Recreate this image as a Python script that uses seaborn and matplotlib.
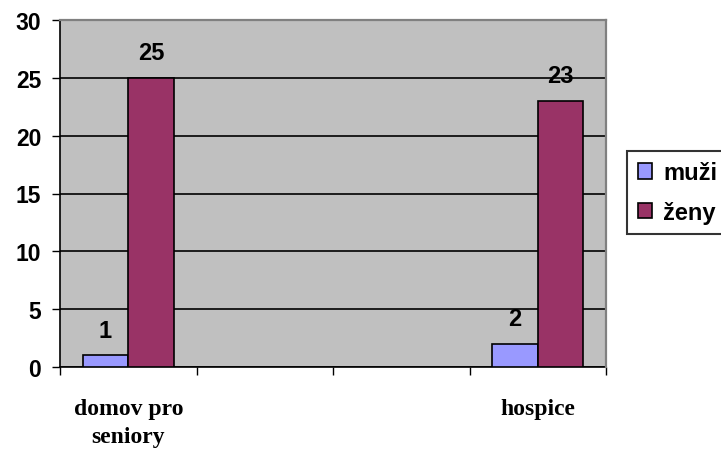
import matplotlib
matplotlib.use("Agg")
import matplotlib.pyplot as plt
import seaborn as sns
import pandas as pd
from matplotlib.ticker import FixedLocator, NullFormatter

# Category slots along the x axis (two unlabeled slots between the facilities)
slots = ["domov pro\nseniory", "slot2", "slot3", "hospice"]
slot_labels = ["domov pro\nseniory", "", "", "hospice"]
facilities = ["domov pro\nseniory", "hospice"]
muzi = [1, 2]
zeny = [25, 23]
series = ["muži", "ženy"]
colors = ["#9999FF", "#993366"]
yticks = [0, 5, 10, 15, 20, 25, 30]

df = pd.DataFrame({
    "zarizeni": facilities * 2,
    "pohlavi": [series[0]] * len(facilities) + [series[1]] * len(facilities),
    "pocet": muzi + zeny,
})

SANS = ["Liberation Sans", "DejaVu Sans"]

sns.set_style("white")
plt.rcParams["font.family"] = SANS
plt.rcParams["text.color"] = "black"
plt.rcParams["xtick.color"] = "black"
plt.rcParams["ytick.color"] = "black"

fig = plt.figure(figsize=(7.21, 4.52), dpi=100)
ax = fig.add_axes([60 / 721, 1 - 368 / 452, (606 - 60) / 721, (368 - 21) / 452])
ax.set_facecolor("#C0C0C0")

sns.barplot(data=df, x="zarizeni", y="pocet", hue="pohlavi", order=slots,
            hue_order=series, palette=colors, width=2 / 3, saturation=1,
            edgecolor="black", linewidth=1.2, ax=ax, zorder=3)

ax.set_xlim(-0.5, len(slots) - 0.5)
ax.set_ylim(0, 30)
ax.set_yticks(yticks)
ax.set_xlabel("")
ax.set_ylabel("")

# Black horizontal gridlines
ax.set_axisbelow(True)
ax.yaxis.grid(True, color="black", linewidth=1.2)
ax.xaxis.grid(False)

# Value labels above each bar
for cont in ax.containers:
    ax.bar_label(cont, fmt="%g", padding=10, fontsize=17, fontweight="bold",
                 family=SANS, color="black")

# Category boundaries as tick marks, names centered in each slot
ax.xaxis.set_major_locator(FixedLocator([i - 0.5 for i in range(len(slots) + 1)]))
ax.xaxis.set_major_formatter(NullFormatter())
ax.xaxis.set_minor_locator(FixedLocator(list(range(len(slots)))))
ax.set_xticklabels(slot_labels, minor=True)
ax.tick_params(axis="x", which="major", direction="out", length=5.5, width=1,
               color="black", bottom=True)
ax.tick_params(axis="x", which="minor", length=0, pad=22, bottom=True,
               labelcolor="black")
for lab in ax.get_xticklabels(minor=True):
    lab.set_fontfamily("Liberation Serif")
    lab.set_fontweight("bold")
    lab.set_fontsize(17)
    lab.set_linespacing(1.45)
    lab.set_va("top")

ax.tick_params(axis="y", direction="out", length=5.5, width=1, color="black",
               left=True, pad=8, labelcolor="black")
for lab in ax.get_yticklabels():
    lab.set_fontsize(16.5)
    lab.set_fontweight("bold")

for side in ["left", "bottom"]:
    ax.spines[side].set_color("black")
    ax.spines[side].set_linewidth(1.2)
for side in ["top", "right"]:
    ax.spines[side].set_color("#808080")
    ax.spines[side].set_linewidth(1.6)
    ax.spines[side].set_zorder(4)

handles, labels = ax.get_legend_handles_labels()
ax.get_legend().remove()
leg = fig.legend(handles, labels, loc="center left",
                 bbox_to_anchor=(627 / 721, 1 - 193.5 / 452),
                 frameon=True, fancybox=False, edgecolor="black",
                 prop={"family": SANS, "weight": "bold", "size": 17},
                 handlelength=0.62, handleheight=0.62, handletextpad=0.45,
                 labelspacing=0.7, borderpad=0.45, borderaxespad=0)
leg.get_frame().set_linewidth(1.5)
for t in leg.get_texts():
    t.set_color("black")

fig.savefig("out.png", dpi=100)
